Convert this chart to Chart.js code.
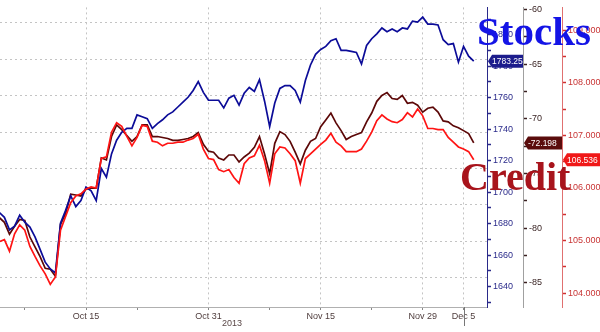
<!DOCTYPE html>
<html lang="en">
<head>
    <meta charset="UTF-8">
    <title>Stocks vs Credit</title>
    <script src="https://cdn.jsdelivr.net/npm/chart.js"></script>
    <style>
        html, body { margin: 0; padding: 0; background: #fff; }
        .chart-box { position: relative; width: 600px; height: 332px; }
    </style>
</head>
<body>
    <div class="chart-box">
        <canvas id="stocksCreditChart"></canvas>
    </div>

    <script>
        // x positions are trading days, Oct 3 = 0, sampled every half day
        const firstDay = -0.5;
        const sampleStep = 0.5;

        // date ticks (trading day index -> label)
        const tickDays = [8, 20, 31, 41, 45];
        const tickLabels = ['Oct 15', 'Oct 31', 'Nov 15', 'Nov 29', 'Dec 5'];
        const minorTickDays = [2, 13, 26, 36];

        // S&P futures (blue, left of the three right axes)
        const stocksSeries = [
            1687.1, 1684.0, 1676.0, 1678.4, 1685.3, 1680.9, 1677.8, 1671.6, 1663.6, 1655.5,
            1651.2, 1648.7, 1680.3, 1688.4, 1697.7, 1690.8, 1694.6, 1703.2, 1700.8, 1694.6,
            1715.0, 1709.5, 1724.3, 1733.0, 1738.0, 1740.5, 1740.5, 1749.1, 1747.9, 1746.7,
            1740.5, 1743.6, 1746.0, 1749.1, 1751.0, 1754.1, 1757.2, 1760.3, 1764.6, 1770.2,
            1763.4, 1758.4, 1758.4, 1758.4, 1753.5, 1759.7, 1761.5, 1755.3, 1762.8, 1766.5,
            1764.0, 1771.5, 1757.8, 1741.7, 1756.6, 1765.9, 1767.7, 1767.7, 1764.6, 1757.2,
            1770.9, 1780.8, 1787.6, 1790.7, 1792.6, 1796.3, 1797.5, 1790.1, 1790.1, 1789.5,
            1788.8, 1781.4, 1793.2, 1797.5, 1800.6, 1804.3, 1801.9, 1803.7, 1801.9, 1804.3,
            1803.7, 1808.7, 1808.1, 1811.2, 1806.8, 1806.8, 1806.2, 1796.9, 1793.8, 1794.4,
            1782.6, 1792.6, 1786.4, 1783.25
        ];

        // credit spread, inverted (dark red, middle axis)
        const creditSpreadSeries = [
            -79.02, -79.46, -80.54, -79.82, -79.20, -79.29, -80.80, -81.70, -82.59, -83.66,
            -83.75, -84.38, -79.64, -78.66, -76.88, -76.96, -77.05, -76.43, -76.34, -76.34,
            -73.57, -73.75, -71.61, -70.54, -70.98, -71.52, -72.05, -71.61, -70.54, -70.54,
            -71.61, -71.61, -71.70, -71.79, -71.96, -71.96, -71.88, -71.79, -71.61, -71.25,
            -72.32, -72.95, -73.04, -73.57, -73.75, -73.30, -73.30, -73.93, -73.48, -73.13,
            -72.59, -71.61, -73.21, -75.00, -72.23, -71.16, -71.43, -72.05, -73.04, -74.11,
            -72.86, -72.05, -71.79, -70.71, -70.09, -69.46, -70.36, -71.07, -71.88, -71.61,
            -71.43, -71.25, -70.27, -69.46, -68.39, -67.86, -67.59, -68.13, -68.21, -67.86,
            -68.57, -68.48, -68.75, -69.38, -69.02, -68.93, -69.38, -70.18, -70.27, -70.63,
            -70.80, -71.07, -71.34, -72.198
        ];

        // credit price (red, right axis)
        const creditPriceSeries = [
            104.98, 105.02, 104.80, 105.13, 105.30, 105.20, 104.89, 104.70, 104.52, 104.37,
            104.17, 104.31, 105.20, 105.46, 105.72, 105.85, 105.89, 105.98, 106.02, 106.00,
            106.56, 106.59, 107.06, 107.24, 107.17, 106.98, 106.80, 106.96, 107.19, 107.17,
            106.89, 106.87, 106.80, 106.85, 106.85, 106.87, 106.87, 106.91, 106.94, 107.02,
            106.74, 106.56, 106.54, 106.35, 106.31, 106.35, 106.20, 106.09, 106.46, 106.57,
            106.61, 106.81, 106.52, 106.09, 106.65, 106.78, 106.76, 106.65, 106.52, 106.09,
            106.56, 106.65, 106.74, 106.83, 106.91, 107.04, 106.87, 106.80, 106.69, 106.69,
            106.69, 106.74, 106.89, 107.06, 107.28, 107.39, 107.31, 107.26, 107.24, 107.30,
            107.43, 107.35, 107.50, 107.37, 107.13, 107.13, 107.11, 107.11, 106.96, 106.87,
            106.78, 106.74, 106.69, 106.536
        ];

        const toPoints = arr => arr.map((v, i) => ({ x: firstDay + i * sampleStep, y: v }));

        const FONT = '"Liberation Sans", Arial, sans-serif';
        const SERIF = '"Liberation Serif", "Times New Roman", serif';

        // last value tags, big labels and the year
        const overlayPlugin = {
            id: 'overlay',
            afterDraw(chart) {
                const ctx = chart.ctx;
                const tags = [
                    { scale: 'y', data: stocksSeries, fill: '#1c1c8c', text: v => v.toFixed(2) },
                    { scale: 'y2', data: creditSpreadSeries, fill: '#5a0c0c', text: v => v.toFixed(3) },
                    { scale: 'y3', data: creditPriceSeries, fill: '#f01818', text: v => v.toFixed(3) }
                ];
                ctx.save();
                tags.forEach(t => {
                    const s = chart.scales[t.scale];
                    const v = t.data[t.data.length - 1];
                    const y = s.getPixelForValue(v);
                    const x0 = s.left + 1;
                    const x1 = s.right;
                    ctx.fillStyle = t.fill;
                    ctx.beginPath();
                    ctx.moveTo(x0, y);
                    ctx.lineTo(x0 + 4, y - 6.5);
                    ctx.lineTo(x1, y - 6.5);
                    ctx.lineTo(x1, y + 6.5);
                    ctx.lineTo(x0 + 4, y + 6.5);
                    ctx.closePath();
                    ctx.fill();
                    ctx.fillStyle = '#fff';
                    ctx.font = '8.5px ' + FONT;
                    ctx.textAlign = 'left';
                    ctx.textBaseline = 'middle';
                    ctx.fillText(t.text(v), x0 + 4, y + 0.5, x1 - x0 - 4);
                });

                // Dec 5 marker under the axis
                const xs = chart.scales.x;
                const xd = Math.round(xs.getPixelForValue(tickDays[tickDays.length - 1])) + 0.5;
                ctx.strokeStyle = '#777';
                ctx.lineWidth = 1;
                ctx.beginPath();
                ctx.moveTo(xd, xs.top);
                ctx.lineTo(xd, xs.top + 19);
                ctx.stroke();

                ctx.fillStyle = '#5a4848';
                ctx.font = '9px ' + FONT;
                ctx.textAlign = 'center';
                ctx.textBaseline = 'middle';
                ctx.fillText('2013', 232, 324);

                ctx.font = 'bold 41px ' + SERIF;
                ctx.textAlign = 'left';
                ctx.textBaseline = 'alphabetic';
                ctx.fillStyle = '#1414e6';
                ctx.fillText('Stocks', 477, 45);
                ctx.fillStyle = '#a8141c';
                ctx.font = 'bold 40px ' + SERIF;
                ctx.fillText('Credit', 460, 190);
                ctx.restore();
            }
        };

        const ctx = document.getElementById('stocksCreditChart').getContext('2d');
        const stocksCreditChart = new Chart(ctx, {
            type: 'line',
            data: {
                datasets: [
                    {
                        label: 'Credit price',
                        data: toPoints(creditPriceSeries),
                        yAxisID: 'y3',
                        borderColor: '#ff1414',
                        borderWidth: 1.7,
                        pointRadius: 0,
                        order: 0
                    },
                    {
                        label: 'Stocks',
                        data: toPoints(stocksSeries),
                        yAxisID: 'y',
                        borderColor: '#0c0c98',
                        borderWidth: 1.7,
                        pointRadius: 0,
                        order: 1
                    },
                    {
                        label: 'Credit spread',
                        data: toPoints(creditSpreadSeries),
                        yAxisID: 'y2',
                        borderColor: '#5c0808',
                        borderWidth: 1.7,
                        pointRadius: 0,
                        order: 2
                    }
                ]
            },
            options: {
                responsive: true,
                maintainAspectRatio: false,
                animation: false,
                layout: { padding: 0 },
                plugins: { legend: { display: false }, tooltip: { enabled: false } },
                scales: {
                    x: {
                        type: 'linear',
                        min: -0.43,
                        max: 47.3,
                        afterBuildTicks: scale => {
                            scale.ticks = tickDays.concat(minorTickDays).map(v => ({ value: v }));
                        },
                        afterFit: scale => { scale.height = 25; },
                        grid: {
                            color: c => tickDays.includes(c.tick && c.tick.value) ? '#c4c4c4' : 'rgba(0,0,0,0)',
                            tickColor: '#888',
                            tickLength: 3,
                            lineWidth: 1
                        },
                        border: { color: '#b0b0b0', dash: [2, 3] },
                        ticks: {
                            autoSkip: false,
                            maxRotation: 0,
                            padding: 1,
                            color: '#4e3c3c',
                            font: { size: 9, family: FONT },
                            callback: v => {
                                const i = tickDays.indexOf(v);
                                return i >= 0 ? tickLabels[i] : '';
                            }
                        }
                    },
                    g: {
                        position: 'left',
                        min: -0.804,
                        max: 7.426,
                        afterBuildTicks: scale => {
                            scale.ticks = [0, 1, 2, 3, 4, 5, 6, 7].map(v => ({ value: v }));
                        },
                        afterFit: scale => { scale.width = 0; },
                        grid: { color: '#c4c4c4', drawTicks: false, lineWidth: 1 },
                        border: { display: false, dash: [2, 3] },
                        ticks: { display: false }
                    },
                    y: {
                        position: 'right',
                        min: 1627.0,
                        max: 1817.4,
                        afterFit: scale => { scale.width = 36; },
                        grid: { drawOnChartArea: false, tickLength: 4, tickColor: '#2a2a8a', tickWidth: 1.5 },
                        border: { color: '#2a2a8a' },
                        ticks: {
                            stepSize: 10,
                            includeBounds: false,
                            autoSkip: false,
                            padding: 2,
                            color: '#2a2a8a',
                            font: { size: 9, family: FONT },
                            callback: v => (v % 20 === 0 ? String(v) : '')
                        }
                    },
                    y2: {
                        position: 'right',
                        min: -87.2,
                        max: -59.8,
                        afterFit: scale => { scale.width = 39; },
                        grid: { drawOnChartArea: false, tickLength: 4, tickColor: '#3a2020', tickWidth: 1.5 },
                        border: { color: '#a0a0a0' },
                        ticks: {
                            stepSize: 2.5,
                            includeBounds: false,
                            autoSkip: false,
                            padding: 2,
                            color: '#3a2424',
                            font: { size: 9, family: FONT },
                            callback: v => (Math.abs(v % 5) < 1e-6 ? String(v) : '')
                        }
                    },
                    y3: {
                        position: 'right',
                        min: 103.74,
                        max: 109.43,
                        afterFit: scale => { scale.width = 38; },
                        grid: { drawOnChartArea: false, tickLength: 4, tickColor: '#d03030', tickWidth: 1.5 },
                        border: { color: '#e07070' },
                        ticks: {
                            stepSize: 0.5,
                            includeBounds: false,
                            autoSkip: false,
                            padding: 2,
                            color: '#c83434',
                            font: { size: 9, family: FONT },
                            callback: v => (Math.abs(v - Math.round(v)) < 1e-6 ? v.toFixed(3) : '')
                        }
                    }
                }
            },
            plugins: [overlayPlugin]
        });
    </script>
</body>
</html>
